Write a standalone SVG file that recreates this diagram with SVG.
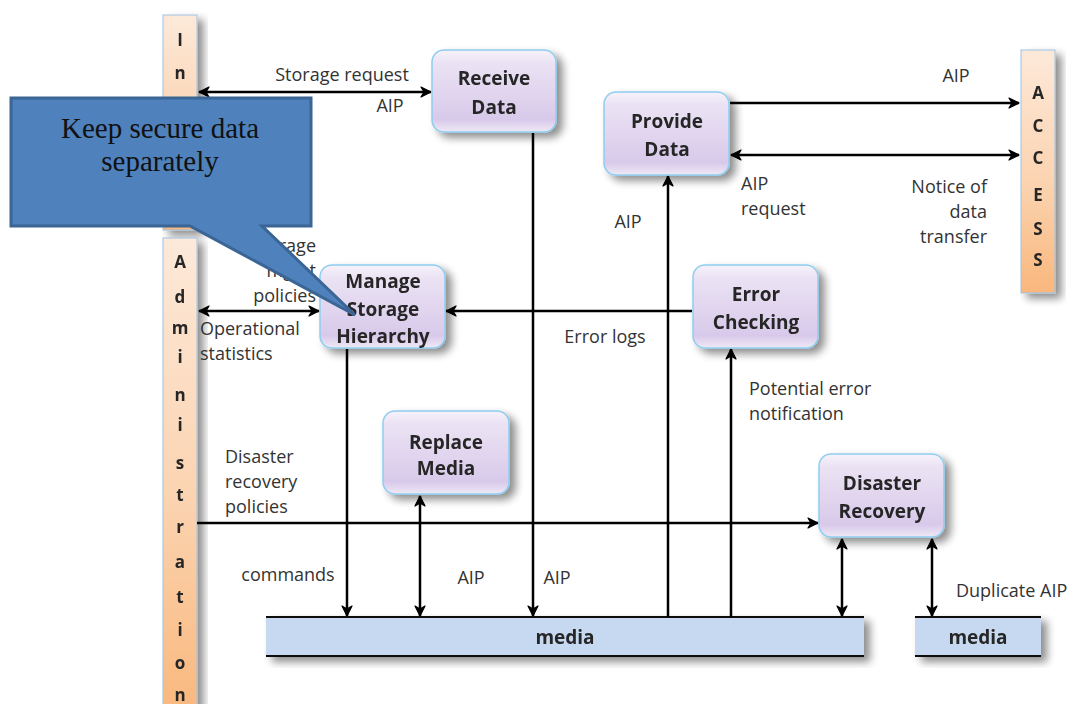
<svg xmlns="http://www.w3.org/2000/svg" width="1069" height="704" viewBox="0 0 1069 704">
  <defs>
    <linearGradient id="gNode" x1="0" y1="0" x2="0" y2="1">
      <stop offset="0" stop-color="#f6f2fa"/>
      <stop offset="0.15" stop-color="#ebe3f4"/>
      <stop offset="0.85" stop-color="#d8c9ea"/>
      <stop offset="1" stop-color="#efe9f6"/>
    </linearGradient>
    <linearGradient id="gBar" x1="0" y1="0" x2="0" y2="1">
      <stop offset="0" stop-color="#fde9d9"/>
      <stop offset="0.55" stop-color="#fbd3b0"/>
      <stop offset="1" stop-color="#f9b77c"/>
    </linearGradient>
    <filter id="shadow" x="-20%" y="-20%" width="150%" height="150%">
      <feGaussianBlur in="SourceAlpha" stdDeviation="4"/>
      <feOffset dx="6" dy="5" result="b"/>
      <feComponentTransfer><feFuncA type="linear" slope="0.45"/></feComponentTransfer>
      <feMerge><feMergeNode/><feMergeNode in="SourceGraphic"/></feMerge>
    </filter>
    <marker id="arr" viewBox="0 0 12 12" refX="11" refY="6" markerWidth="12" markerHeight="12" markerUnits="userSpaceOnUse" orient="auto-start-reverse">
      <path d="M1,1 L11,6 L1,11 L4,6 Z" fill="#000" stroke="#000" stroke-width="1.2" stroke-linejoin="round"/>
    </marker>
  </defs>
  <style>
    .node rect { fill: url(#gNode); stroke: #8fcdf0; stroke-width: 1.5; }
    .nt { font-family: "Open Sans", "Liberation Sans", sans-serif; font-weight: bold; font-size: 19px; fill: #262626; text-anchor: middle; }
    .bar rect { fill: url(#gBar); stroke: #9dc3e6; stroke-width: 1; }
    .bt { font-family: "Open Sans", "Liberation Sans", sans-serif; font-weight: bold; font-size: 17px; fill: #262626; text-anchor: middle; }
    .media rect { fill: #c6d9f1; }
    .media line { stroke: #111; stroke-width: 2; }
    .lbl { font-family: "Open Sans", "Liberation Sans", sans-serif; font-size: 18px; fill: #333; }
    .mid { text-anchor: middle; }
    .end { text-anchor: end; }
    .conn line { stroke: #000; stroke-width: 2.5; fill: none; }
    .callout path { fill: #4f81bd; stroke: #3a6594; stroke-width: 3; }
    .ct { font-family: "Liberation Serif", "Times New Roman", serif; font-size: 29px; fill: #111; text-anchor: middle; }
  </style>

  <rect width="1069" height="704" fill="#ffffff"/>

  <!-- external entity bars -->
  <g id="ingest" class="bar" filter="url(#shadow)">
    <rect x="163" y="15" width="34" height="215"/>
    <text class="bt" x="180" y="46">I</text>
    <text class="bt" x="180" y="79">n</text>
  </g>
  <g id="administration" class="bar" filter="url(#shadow)">
    <rect x="163" y="238" width="34" height="480"/>
    <text class="bt" x="180" y="268">A</text>
    <text class="bt" x="180" y="303">d</text>
    <text class="bt" x="180" y="334">m</text>
    <text class="bt" x="180" y="363">i</text>
    <text class="bt" x="180" y="401">n</text>
    <text class="bt" x="180" y="431">i</text>
    <text class="bt" x="180" y="469">s</text>
    <text class="bt" x="180" y="501">t</text>
    <text class="bt" x="180" y="533">r</text>
    <text class="bt" x="180" y="568">a</text>
    <text class="bt" x="180" y="603">t</text>
    <text class="bt" x="180" y="636">i</text>
    <text class="bt" x="180" y="669">o</text>
    <text class="bt" x="180" y="701">n</text>
  </g>
  <g id="access" class="bar" filter="url(#shadow)">
    <rect x="1021" y="50" width="34" height="243"/>
    <text class="bt" x="1038" y="99">A</text>
    <text class="bt" x="1038" y="132">C</text>
    <text class="bt" x="1038" y="164">C</text>
    <text class="bt" x="1038" y="201">E</text>
    <text class="bt" x="1038" y="235">S</text>
    <text class="bt" x="1038" y="266">S</text>
  </g>

  <!-- storage media -->
  <g id="media-main" class="media" filter="url(#shadow)">
    <rect x="266" y="617" width="598" height="39"/>
    <line x1="266" y1="617" x2="864" y2="617"/>
    <line x1="266" y1="656" x2="864" y2="656"/>
    <text class="nt" x="565" y="644">media</text>
  </g>
  <g id="media-dup" class="media" filter="url(#shadow)">
    <rect x="915" y="617" width="126" height="39"/>
    <line x1="915" y1="617" x2="1041" y2="617"/>
    <line x1="915" y1="656" x2="1041" y2="656"/>
    <text class="nt" x="978" y="644">media</text>
  </g>

  <!-- connectors -->
  <g id="connectors" class="conn">
    <line x1="199" y1="92" x2="431" y2="92" marker-start="url(#arr)" marker-end="url(#arr)"/>
    <line x1="533" y1="133" x2="533" y2="616" marker-end="url(#arr)"/>
    <line x1="730" y1="103" x2="1019" y2="103" marker-end="url(#arr)"/>
    <line x1="731" y1="155" x2="1019" y2="155" marker-start="url(#arr)" marker-end="url(#arr)"/>
    <line x1="668" y1="617" x2="668" y2="176" marker-end="url(#arr)"/>
    <line x1="692" y1="311" x2="446" y2="311" marker-end="url(#arr)"/>
    <line x1="731" y1="617" x2="731" y2="349" marker-end="url(#arr)"/>
    <line x1="199" y1="311" x2="319" y2="311" marker-start="url(#arr)" marker-end="url(#arr)"/>
    <line x1="347" y1="349" x2="347" y2="616" marker-end="url(#arr)"/>
    <line x1="420" y1="496" x2="420" y2="616" marker-start="url(#arr)" marker-end="url(#arr)"/>
    <line x1="197" y1="523" x2="818" y2="523" marker-end="url(#arr)"/>
    <line x1="842" y1="539" x2="842" y2="616" marker-start="url(#arr)" marker-end="url(#arr)"/>
    <line x1="932" y1="539" x2="932" y2="616" marker-start="url(#arr)" marker-end="url(#arr)"/>
  </g>

  <!-- connector labels -->
  <g id="labels" class="lbl">
    <text class="lbl mid" x="342" y="81">Storage request</text>
    <text class="lbl mid" x="390" y="112">AIP</text>
    <text class="lbl mid" x="956" y="82">AIP</text>
    <text class="lbl" x="741" y="190">AIP</text>
    <text class="lbl" x="741" y="215">request</text>
    <text class="lbl end" x="987" y="193">Notice of</text>
    <text class="lbl end" x="987" y="218">data</text>
    <text class="lbl end" x="987" y="243">transfer</text>
    <text class="lbl mid" x="628" y="228">AIP</text>
    <text class="lbl mid" x="605" y="343">Error logs</text>
    <text class="lbl" x="749" y="395">Potential error</text>
    <text class="lbl" x="749" y="420">notification</text>
    <text class="lbl end" x="316" y="252">Storage</text>
    <text class="lbl end" x="316" y="277">mgmt</text>
    <text class="lbl end" x="316" y="302">policies</text>
    <text class="lbl" x="200" y="335">Operational</text>
    <text class="lbl" x="200" y="360">statistics</text>
    <text class="lbl" x="225" y="463">Disaster</text>
    <text class="lbl" x="225" y="488">recovery</text>
    <text class="lbl" x="225" y="513">policies</text>
    <text class="lbl mid" x="288" y="581">commands</text>
    <text class="lbl mid" x="471" y="584">AIP</text>
    <text class="lbl mid" x="557" y="584">AIP</text>
    <text class="lbl" x="956" y="597">Duplicate AIP</text>
  </g>

  <!-- process nodes -->
  <g id="receive-data" class="node" filter="url(#shadow)">
    <rect x="432" y="50" width="124" height="82" rx="12"/>
    <text class="nt" x="494" y="85">Receive</text>
    <text class="nt" x="494" y="114">Data</text>
  </g>
  <g id="provide-data" class="node" filter="url(#shadow)">
    <rect x="604" y="92" width="125" height="83" rx="12"/>
    <text class="nt" x="667" y="128">Provide</text>
    <text class="nt" x="667" y="156">Data</text>
  </g>
  <g id="manage-storage-hierarchy" class="node" filter="url(#shadow)">
    <rect x="320" y="265" width="125" height="83" rx="12"/>
    <text class="nt" x="383" y="288">Manage</text>
    <text class="nt" x="383" y="316">Storage</text>
    <text class="nt" x="383" y="343">Hierarchy</text>
  </g>
  <g id="error-checking" class="node" filter="url(#shadow)">
    <rect x="693" y="265" width="125" height="83" rx="12"/>
    <text class="nt" x="756" y="301">Error</text>
    <text class="nt" x="756" y="329">Checking</text>
  </g>
  <g id="replace-media" class="node" filter="url(#shadow)">
    <rect x="383" y="411" width="126" height="83" rx="12"/>
    <text class="nt" x="446" y="449">Replace</text>
    <text class="nt" x="446" y="475">Media</text>
  </g>
  <g id="disaster-recovery" class="node" filter="url(#shadow)">
    <rect x="819" y="454" width="125" height="83" rx="12"/>
    <text class="nt" x="882" y="490">Disaster</text>
    <text class="nt" x="882" y="518">Recovery</text>
  </g>

  <!-- callout note -->
  <g id="callout" class="callout">
    <path d="M11,98 H311 V226 H262 L355,315 L190,226 H11 Z"/>
    <text class="ct" x="160" y="138">Keep secure data</text>
    <text class="ct" x="160" y="171">separately</text>
  </g>
</svg>
